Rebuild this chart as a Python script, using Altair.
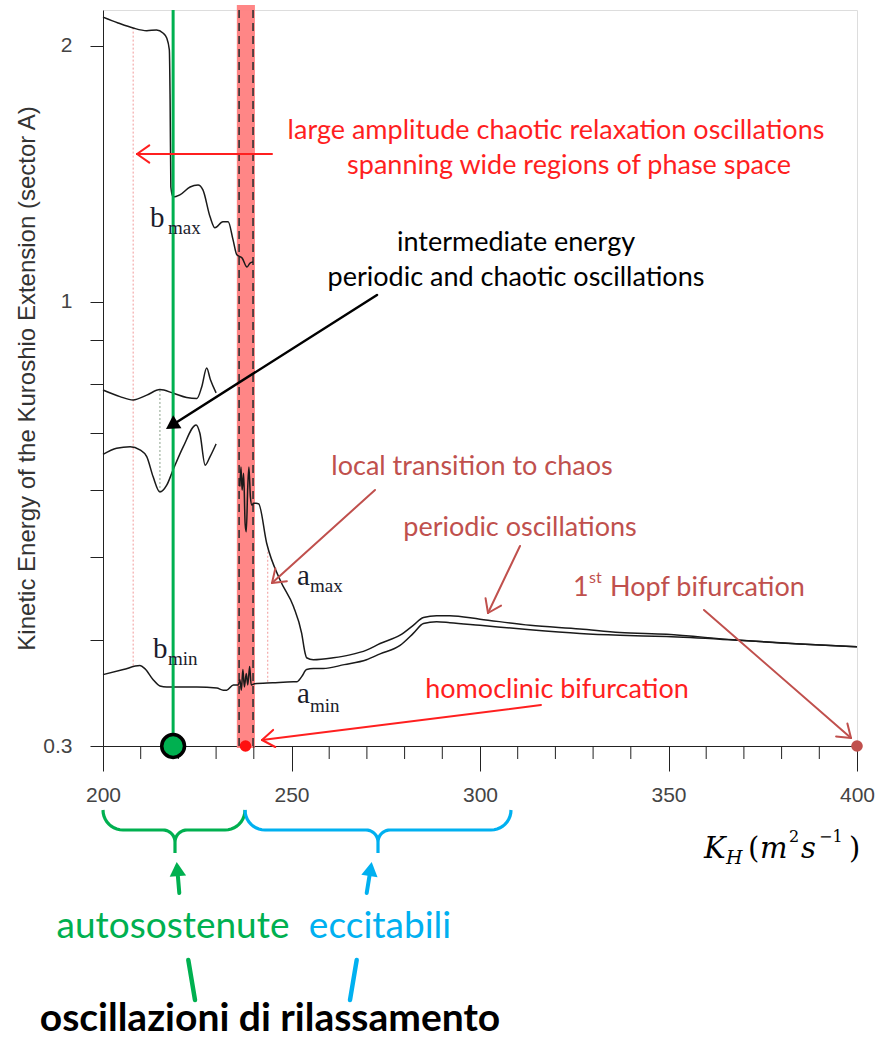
import math

import altair as alt
import pandas as pd

# ---------------------------------------------------------------------------
# Bifurcation diagram: extrema of the kinetic energy vs horizontal diffusivity
# ---------------------------------------------------------------------------

# large-amplitude relaxation oscillations, upper extremum (b_max)
K_BMAX = [200.0, 204.0, 208.0, 211.6, 214.2, 215.9, 216.9, 217.6, 217.8, 218.0,
          218.6, 220.4, 223.1, 225.2, 226.5, 228.4, 229.7, 231.8, 233.2, 234.5,
          235.5, 236.9, 238.2, 239.0, 239.8]
E_BMAX = [2.161, 2.127, 2.098, 2.083, 2.087, 2.070, 2.042, 1.977, 1.726, 1.364,
          1.327, 1.335, 1.364, 1.371, 1.353, 1.258, 1.221, 1.241, 1.241, 1.182,
          1.135, 1.125, 1.098, 1.110, 1.113]

# intermediate-energy periodic / chaotic branch, upper and lower extrema
K_IMAX = [200.0, 204.5, 208.0, 211.6, 215.1, 218.7, 222.2, 224.9, 226.2, 227.5,
          228.5, 230.0]
E_IMAX = [0.787, 0.773, 0.766, 0.776, 0.788, 0.780, 0.771, 0.769, 0.794, 0.835,
          0.809, 0.781]
K_IMIN = [200.0, 203.6, 207.2, 209.8, 211.6, 213.3, 215.1, 216.9, 218.6, 221.3,
          224.7, 225.7, 227.1, 228.4, 230.0]
E_IMIN = [0.661, 0.672, 0.675, 0.669, 0.657, 0.622, 0.597, 0.608, 0.634, 0.675,
          0.716, 0.700, 0.642, 0.657, 0.680]

# small-amplitude oscillations, upper extremum (a_max)
K_AMAX = [236.3, 236.6, 236.9, 237.3, 237.7, 238.0, 238.4, 238.7, 239.1, 239.5,
          239.9, 240.6, 241.3, 243.4, 247.0, 250.5, 252.7, 253.6, 254.0, 255.8,
          261.1, 265.5, 269.9, 273.5, 278.8, 282.3, 285.0, 288.5, 292.0, 300.0,
          313.3, 326.5, 337.1, 349.5, 367.2, 384.9, 400.0]
E_AMAX = [0.606, 0.639, 0.600, 0.628, 0.548, 0.536, 0.606, 0.639, 0.589, 0.576,
          0.579, 0.579, 0.578, 0.520, 0.470, 0.438, 0.407, 0.386, 0.381, 0.379,
          0.381, 0.384, 0.389, 0.396, 0.405, 0.416, 0.425, 0.427, 0.427, 0.423,
          0.416, 0.412, 0.408, 0.406, 0.400, 0.3955, 0.3926]

# lower extremum over the whole range (b_min then a_min)
K_MIN = [200.0, 205.4, 209.8, 211.1, 213.3, 215.1, 216.9, 224.9, 230.2, 231.9,
         232.8, 234.6, 235.9, 236.3, 236.7, 237.1, 237.5, 238.0, 238.4, 238.9,
         239.3, 240.2, 245.0, 250.5, 251.4, 252.7, 254.0, 255.8, 258.4, 264.0,
         269.9, 273.5, 278.8, 282.3, 285.0, 288.5, 292.0, 300.0, 313.3, 326.5,
         337.1, 349.5, 367.2, 384.9, 400.0]
E_MIN = [0.364, 0.369, 0.373, 0.370, 0.359, 0.353, 0.352, 0.352, 0.351, 0.349,
         0.349, 0.354, 0.354, 0.359, 0.349, 0.369, 0.352, 0.365, 0.354, 0.372,
         0.354, 0.355, 0.356, 0.357, 0.357, 0.362, 0.369, 0.370, 0.370, 0.374,
         0.379, 0.385, 0.394, 0.407, 0.418, 0.420, 0.419, 0.416, 0.411, 0.407,
         0.405, 0.4035, 0.3998, 0.3955, 0.3926]

# vertical markers
DOT_K = [208.0, 243.7]          # red dotted transition markers
DOT_LO = [0.373, 0.357]
DOT_HI = [2.098, 0.508]
GREY_DOT_K = [215.1]            # branch-connecting dotted marker
GREY_DOT_LO = [0.597]
GREY_DOT_HI = [0.787]
K_SELECTED = 218.6              # green reference value
K_HOMOCLINIC = 237.8            # homoclinic bifurcation
K_HOPF = 400.0                  # first Hopf bifurcation
BAND = [235.5, 240.3]           # highlighted transition band
DASHED_K = [236.1, 239.8]

# axes
X_TICKS = [200, 250, 300, 350, 400]
X_MINOR = [k for k in range(210, 400, 10) if k % 50]
Y_TICKS = [0.3, 0.4, 0.5, 0.6, 0.7, 0.8, 0.9, 1, 2]
Y_TITLE = "Kinetic Energy of the Kuroshio Extension (sector A)"

# ---------------------------------------------------------------------------
# layout helpers (page pixels -> data coordinates, for annotations)
# ---------------------------------------------------------------------------
LEFT, TOP, W, H = 103, 10, 754, 736
K_LO, K_HI = 200.0, 400.0
E_LO, E_HI = 0.3, 2.203
DEC = math.log10(E_HI / E_LO)


def kx(px):
    return K_LO + (px - LEFT) * (K_HI - K_LO) / W


def ey(py):
    return E_LO * 10 ** ((TOP + H - py) / H * DEC)


XS = alt.Scale(domain=[K_LO, K_HI], nice=False, zero=False)
YS = alt.Scale(type="log", domain=[E_LO, E_HI], nice=False)

X_AXIS = alt.Axis(values=X_TICKS, format="d", tickSize=25, tickColor="#222",
                  domainColor="#222", labelFont="Liberation Sans", labelFontSize=21,
                  labelColor="#444", labelPadding=13, labelFlush=False,
                  labelOverlap=False, grid=False, title=None)
Y_AXIS = alt.Axis(values=Y_TICKS,
                  labelExpr="(datum.value == 0.3 || datum.value == 1 || datum.value == 2)"
                            " ? format(datum.value, '~g') : ''",
                  tickSize=13, tickColor="#222", domainColor="#222",
                  labelFont="Liberation Sans", labelFontSize=21, labelColor="#444",
                  labelPadding=18, labelFlush=False, labelOverlap=False, grid=False,
                  title=Y_TITLE, titleFont="Liberation Sans", titleFontSize=24,
                  titleFontWeight="normal", titleColor="#333", titlePadding=3)


def X(field="K"):
    return alt.X(f"{field}:Q", scale=XS, axis=X_AXIS)


def Y(field="E"):
    return alt.Y(f"{field}:Q", scale=YS, axis=Y_AXIS)


layers = []

# highlighted band and its dashed borders
band_df = pd.DataFrame({"K": [BAND[0]], "K2": [BAND[1]], "E": [ey(5)], "E2": [ey(748)]})
layers.append(alt.Chart(band_df).mark_rect(color="#ff8080", opacity=0.95)
              .encode(x=X(), x2="K2", y=Y(), y2="E2"))

dash_df = pd.DataFrame({"K": DASHED_K, "E": [E_HI] * 2, "E2": [E_LO] * 2})
layers.append(alt.Chart(dash_df).mark_rule(color="#333", strokeWidth=1.6, strokeDash=[8, 5])
              .encode(x=X(), y=Y(), y2="E2"))

# dotted markers
dot_df = pd.DataFrame({"K": DOT_K, "E": DOT_LO, "E2": DOT_HI})
layers.append(alt.Chart(dot_df).mark_rule(color="#f19a9a", strokeWidth=1, strokeDash=[2, 2])
              .encode(x=X(), y=Y(), y2="E2"))
gdot_df = pd.DataFrame({"K": GREY_DOT_K, "E": GREY_DOT_LO, "E2": GREY_DOT_HI})
layers.append(alt.Chart(gdot_df).mark_rule(color="#8aa08a", strokeWidth=1, strokeDash=[2, 2])
              .encode(x=X(), y=Y(), y2="E2"))

# minor x ticks
minor_df = pd.DataFrame({"K": X_MINOR, "E": [E_LO] * len(X_MINOR),
                         "E2": [ey(759)] * len(X_MINOR)})
layers.append(alt.Chart(minor_df).mark_rule(color="#222", strokeWidth=1)
              .encode(x=X(), y=Y(), y2="E2"))

# curves
curves = []
for name, ks, es in [("bmax", K_BMAX, E_BMAX), ("imax", K_IMAX, E_IMAX),
                     ("imin", K_IMIN, E_IMIN), ("amax", K_AMAX, E_AMAX),
                     ("min", K_MIN, E_MIN)]:
    curves.append(pd.DataFrame({"K": ks, "E": es, "series": name}))
curve_df = pd.concat(curves, ignore_index=True)
layers.append(alt.Chart(curve_df).mark_line(color="#1a1a1a", strokeWidth=1.5,
                                            interpolate="monotone")
              .encode(x=X(), y=Y(), detail="series:N"))

# green reference line and circle
green_df = pd.DataFrame({"K": [K_SELECTED], "E": [E_HI], "E2": [E_LO]})
layers.append(alt.Chart(green_df).mark_rule(color="#00b050", strokeWidth=3)
              .encode(x=X(), y=Y(), y2="E2"))
layers.append(alt.Chart(pd.DataFrame({"K": [K_SELECTED], "E": [E_LO]}))
              .mark_circle(color="#00b050", opacity=1, stroke="#000", strokeWidth=3.5, size=520)
              .encode(x=X(), y=Y()))

# bifurcation points
layers.append(alt.Chart(pd.DataFrame({"K": [K_HOMOCLINIC], "E": [E_LO]}))
              .mark_circle(color="#ff1010", opacity=1, size=135).encode(x=X(), y=Y()))
layers.append(alt.Chart(pd.DataFrame({"K": [K_HOPF], "E": [E_LO]}))
              .mark_circle(color="#c0504d", opacity=1, size=135).encode(x=X(), y=Y()))

# ---------------------------------------------------------------------------
# arrows (page-pixel geometry)
# ---------------------------------------------------------------------------
RED, BROWN, GREEN, BLUE = "#ff1f1f", "#c0504d", "#00b050", "#00b0f0"
ARROWS = [
    (272, 154, 137, 154, RED, 2.0, "v"),
    (377, 295, 166, 429, "#000000", 2.5, "tri"),
    (375, 490, 272, 583, BROWN, 2.0, "v"),
    (520, 546, 488, 613, BROWN, 2.0, "v"),
    (704, 610, 851, 738, BROWN, 2.0, "v"),
    (541, 705, 262, 740, RED, 2.0, "v"),
    (179.3, 893, 176.7, 862, GREEN, 4.0, "tri"),
    (366.7, 893, 371.7, 862, BLUE, 4.0, "tri"),
    (188.3, 960, 195, 1000, GREEN, 4.5, None),
    (356.7, 960, 350, 1000, BLUE, 4.5, None),
]

segs, tris = [], []
for x1, y1, x2, y2, col, wid, head in ARROWS:
    L = math.hypot(x2 - x1, y2 - y1)
    ux, uy = (x2 - x1) / L, (y2 - y1) / L
    ex, ey_ = x2, y2
    if head == "tri":
        size = 240 if col == "#000000" else 270
        h = 0.433 * math.sqrt(size)
        cx, cy = x2 - h * ux, y2 - h * uy
        ang = math.degrees(math.atan2(ux, -uy)) % 360
        tris.append({"K": kx(cx), "E": ey(cy), "ang": ang, "s": size, "c": col})
        ex, ey_ = x2 - 1.6 * h * ux, y2 - 1.6 * h * uy
    segs.append({"K": kx(x1), "E": ey(y1), "K2": kx(ex), "E2": ey(ey_), "c": col, "w": wid})
    if head == "v":
        for s in (1, -1):
            a = math.radians(35) * s
            bx, by = -ux, -uy
            rx = bx * math.cos(a) - by * math.sin(a)
            ry = bx * math.sin(a) + by * math.cos(a)
            segs.append({"K": kx(x2), "E": ey(y2), "K2": kx(x2 + 15 * rx),
                         "E2": ey(y2 + 15 * ry), "c": col, "w": wid})

layers.append(alt.Chart(pd.DataFrame(segs)).mark_rule(strokeCap="round")
              .encode(x=X(), y=Y(), x2="K2", y2="E2",
                      color=alt.Color("c:N", scale=None),
                      strokeWidth=alt.StrokeWidth("w:Q", scale=None)))
layers.append(alt.Chart(pd.DataFrame(tris)).mark_point(shape="triangle-up", filled=True, opacity=1)
              .encode(x=X(), y=Y(), angle=alt.Angle("ang:Q", scale=None),
                      size=alt.Size("s:Q", scale=None), color=alt.Color("c:N", scale=None)))


# curly braces under the axis
def brace(x0, x1, xm, ytop, r=20, r2=12, ytip=853):
    ymid = ytop + r
    pts = []
    for i in range(11):
        t = math.pi - i * (math.pi / 2) / 10
        pts.append((x0 + r + r * math.cos(t), ytop + r * math.sin(t)))
    for i in range(11):
        t = -math.pi / 2 + i * (math.pi / 2) / 10
        pts.append((xm - r2 + r2 * math.cos(t), ymid + r2 + r2 * math.sin(t)))
    pts.append((xm, ytip))
    for i in range(11):
        t = math.pi + i * (math.pi / 2) / 10
        pts.append((xm + r2 + r2 * math.cos(t), ymid + r2 + r2 * math.sin(t)))
    for i in range(11):
        t = math.pi / 2 - i * (math.pi / 2) / 10
        pts.append((x1 - r + r * math.cos(t), ytop + r * math.sin(t)))
    return pts


brace_rows = []
for gid, (x0, x1, xm, col) in enumerate([(103, 245, 175, GREEN), (245, 511, 378, BLUE)]):
    for o, (px, py) in enumerate(brace(x0, x1, xm, 810)):
        brace_rows.append({"K": kx(px), "E": ey(py), "o": o, "g": gid, "c": col})
layers.append(alt.Chart(pd.DataFrame(brace_rows)).mark_line(strokeWidth=3.2)
              .encode(x=X(), y=Y(), order="o:Q", detail="g:N",
                      color=alt.Color("c:N", scale=None)))


# ---------------------------------------------------------------------------
# text
# ---------------------------------------------------------------------------
def label(txt, px, py, size, color="#000000", font="Lato", style="normal",
          weight="normal", align="center", baseline="middle"):
    df = pd.DataFrame({"K": [kx(px)], "E": [ey(py)], "t": [txt]})
    return (alt.Chart(df)
            .mark_text(font=font, fontSize=size, fontStyle=style, fontWeight=weight,
                       align=align, baseline=baseline, color=color)
            .encode(x=X(), y=Y(), text="t:N"))


layers += [
    label("large amplitude chaotic relaxation oscillations", 556, 131, 27, RED),
    label("spanning wide regions of phase space", 569, 166, 27, RED),
    label("intermediate energy", 516, 243, 27),
    label("periodic and chaotic oscillations", 516, 278, 27),
    label("local transition to chaos", 472, 467, 27, BROWN),
    label("periodic oscillations", 520, 528, 27, BROWN),
    label("homoclinic bifurcation", 557, 690, 27, RED),
    label("1", 573, 588, 27, BROWN, align="left"),
    label("st", 589, 578, 16, BROWN, align="left"),
    label("Hopf bifurcation", 610, 588, 27, BROWN, align="left"),
]

SERIF = "Liberation Serif"
INK = "#1c1c2c"
for main, sub, px, py, sx, sy in [("b", "max", 150, 227, 168, 234),
                                  ("b", "min", 153, 658, 168, 665),
                                  ("a", "max", 297, 585, 310, 592),
                                  ("a", "min", 297, 703, 310, 712)]:
    layers.append(label(main, px, py, 29, INK, font=SERIF, align="left", baseline="alphabetic"))
    layers.append(label(sub, sx, sy, 19, INK, font=SERIF, align="left", baseline="alphabetic"))

# x-axis title: K_H (m^2 s^-1)
MATH = "DejaVu Serif"
for txt, px, py, size, style in [("K", 704, 858, 29, "italic"), ("H", 726, 864, 19, "italic"),
                                 ("(", 748, 858, 29, "normal"), ("m", 760, 858, 29, "italic"),
                                 ("2", 789, 842, 16, "normal"), ("s", 801, 858, 29, "italic"),
                                 ("\u22121", 819, 842, 16, "normal"), (")", 849, 858, 29, "normal")]:
    layers.append(label(txt, px, py, size, "#000000", font=MATH, style=style,
                        align="left", baseline="alphabetic"))

layers += [
    label("autosostenute", 173, 927, 37, GREEN),
    label("eccitabili", 380, 927, 37, BLUE),
    label("oscillazioni di rilassamento", 270, 1019, 39, weight="bold"),
]

chart = (alt.layer(*layers)
         .properties(width=W, height=H,
                     padding={"left": LEFT, "top": TOP, "right": 877 - LEFT - W,
                              "bottom": 1038 - TOP - H},
                     autosize=alt.AutoSizeParams(type="none"))
         .configure_view(stroke="#444", strokeWidth=1)
         .configure(background="white"))

chart.save("out.html", embed_options={"renderer": "svg", "actions": False})
